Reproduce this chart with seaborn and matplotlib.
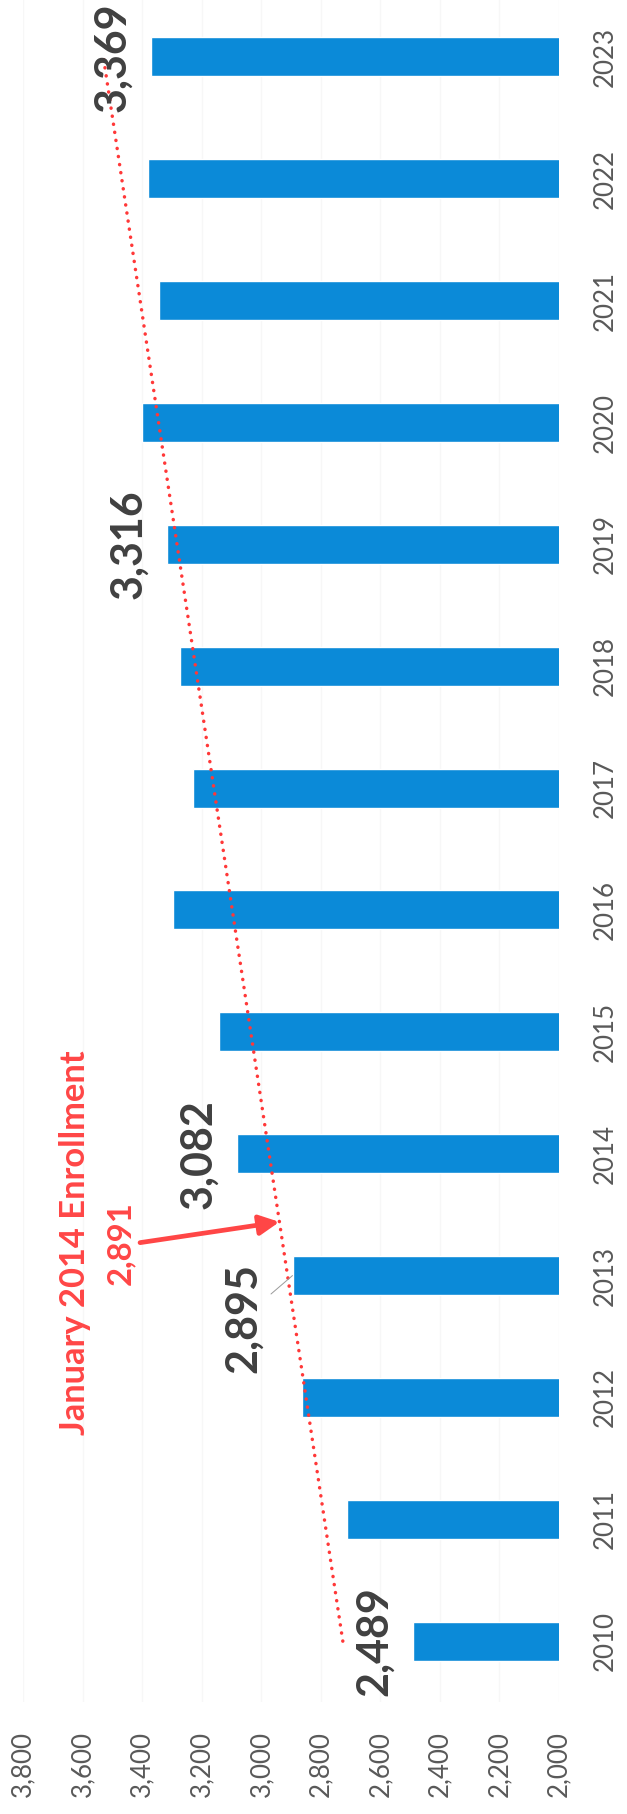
import numpy as np
import pandas as pd
import matplotlib
matplotlib.use("Agg")
import matplotlib.pyplot as plt
import seaborn as sns

# Enrollment by year
years = [2010, 2011, 2012, 2013, 2014, 2015, 2016, 2017, 2018, 2019, 2020, 2021, 2022, 2023]
enrollment = [2489, 2713, 2862, 2895, 3082, 3143, 3298, 3230, 3273, 3316, 3402, 3343, 3380, 3369]
labeled_years = [2010, 2013, 2014, 2019, 2023]
value_ticks = [2000, 2200, 2400, 2600, 2800, 3000, 3200, 3400, 3600, 3800]

callout_title = "January 2014 Enrollment"
callout_value = "2,891"

BAR = "#0b8ad8"
RED = "#ff4646"
LABEL = "#404040"
TICK = "#595959"

sns.set_theme(style="white")
plt.rcParams["font.family"] = ["Lato", "DejaVu Sans"]

df = pd.DataFrame({"year": years, "enrollment": enrollment})

fig = plt.figure(figsize=(6.27, 18.14), dpi=100)
ax = fig.add_axes([0.0367, 0.0617, 0.8549, 0.9383])

sns.barplot(data=df, x="enrollment", y="year", orient="y", native_scale=True,
            color=BAR, saturation=1, width=0.32, ax=ax, zorder=2)

# value axis runs right-to-left, years bottom-to-top
ax.set_xlim(3800, 2000)
ax.set_ylim(2009.5, 2023.467)

# faint gridlines
for v in value_ticks:
    ax.axvline(v, color="#f7f7f7", lw=1, zorder=0)

# linear trend of enrollment
slope, intercept = np.polyfit(years, enrollment, 1)
tx = np.array([years[0], years[-1]])
ax.plot(intercept + slope * tx, tx, color="#ff3838", lw=2.5,
        linestyle=(0, (0.05, 2.3)), dash_capstyle="round", zorder=3)

# data labels
for y, v in zip(years, enrollment):
    if y not in labeled_years:
        continue
    if y == 2013:
        ax.annotate(f"{v:,}", xy=(v, y), xytext=(-49, -42), textcoords="offset pixels",
                    rotation=90, ha="center", va="center", fontsize=31,
                    fontweight="bold", color=LABEL, zorder=5,
                    arrowprops=dict(arrowstyle="-", color="#9a9a9a", lw=0.7,
                                    shrinkA=4, shrinkB=0))
    else:
        ax.annotate(f"{v:,}", xy=(v, y), xytext=(-39, 0), textcoords="offset pixels",
                    rotation=90, ha="center", va="center", fontsize=31,
                    fontweight="bold", color=LABEL, zorder=5)

# callout arrow onto the trend line
tip_year = 2013.44
ax.annotate("", xy=(intercept + slope * tip_year, tip_year), xytext=(3407, 2013.27),
            arrowprops=dict(arrowstyle="-|>", color=RED, lw=3.4, mutation_scale=30,
                            shrinkA=0, shrinkB=0), zorder=6)
ax.text(3624, 2013.27, callout_title, rotation=90, ha="center", va="center",
        fontsize=24.8, fontweight="bold", color=RED, zorder=6)
ax.text(3474, 2013.27, callout_value, rotation=90, ha="center", va="center",
        fontsize=23.7, fontweight="bold", color=RED, zorder=6)

# axes and ticks
ax.set_xticks(value_ticks)
ax.set_xticklabels([f"{v:,}" for v in value_ticks], rotation=90, fontsize=18.6, color=TICK)
ax.set_yticks(years)
ax.set_yticklabels([str(y) for y in years], rotation=90, fontsize=18.6, color=TICK, va="center")
ax.yaxis.tick_right()
ax.tick_params(axis="x", length=0, pad=21)
ax.tick_params(axis="y", length=0, pad=24)
ax.set_xlabel("")
ax.set_ylabel("")
for s in ax.spines.values():
    s.set_visible(False)

fig.savefig("out.png", dpi=100, facecolor="white")
